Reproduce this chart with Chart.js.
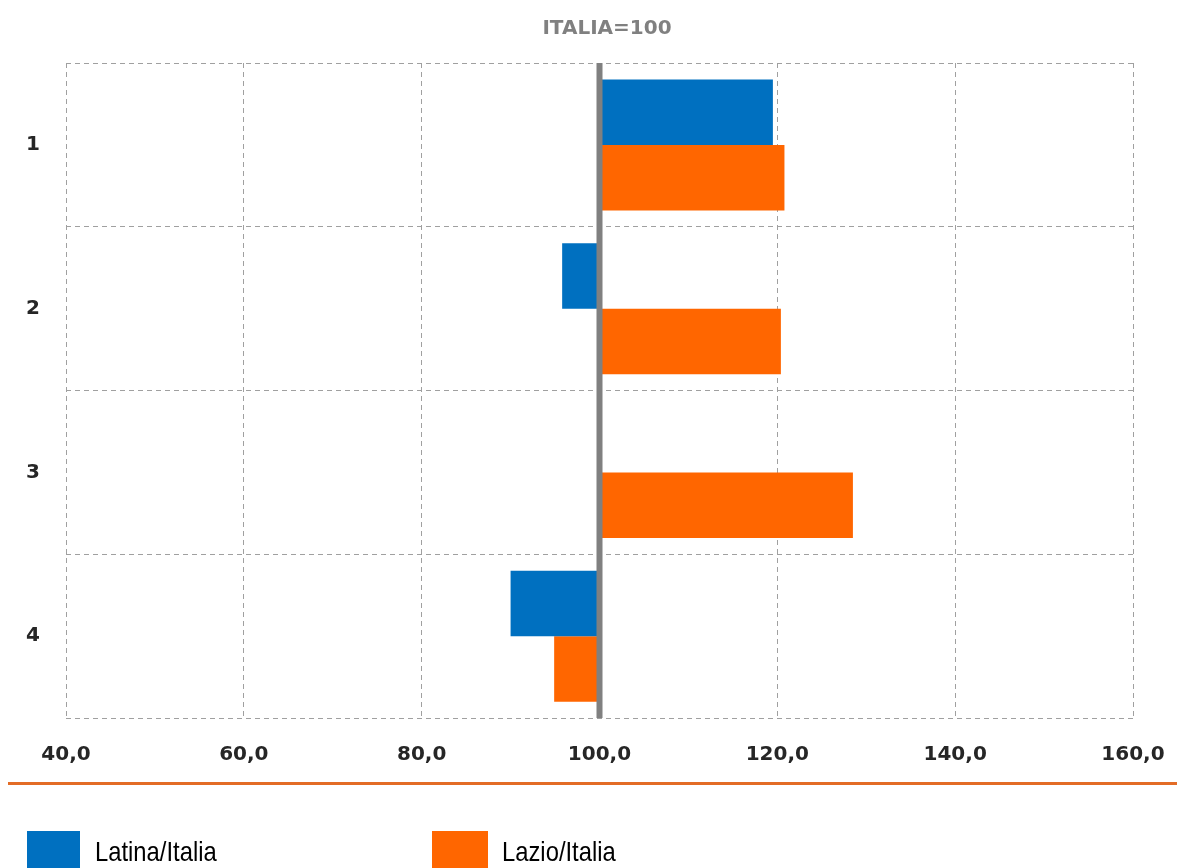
<!DOCTYPE html>
<html>
<head>
<style>
  body { margin: 0; background: #fff; font-family: "Liberation Sans", Arial, sans-serif; }
  #wrap { position: relative; width: 1177px; height: 868px; overflow: hidden; }
  #title { position: absolute; top: 15px; left: 507px; width: 200px; text-align: center;
           font-family: "DejaVu Sans", sans-serif; font-weight: bold; font-size: 20px; color: #808080; }
  #sep { position: absolute; left: 8px; top: 782px; width: 1169px; height: 3px; background: #e36c26; }
  .leg { position: absolute; top: 831px; height: 40px; }
  .leg-txt { position: absolute; top: 836px; font-size: 28px; color: #000;
             transform: scaleX(0.85); transform-origin: left center; white-space: nowrap; }
</style>
</head>
<body>
<div id="wrap">
  <canvas id="chart"></canvas>
  <div id="title">ITALIA=100</div>
  <div id="sep"></div>
  <div id="legend"></div>
</div>
<script src="https://cdn.jsdelivr.net/npm/chart.js"></script>
<script>
const categories = ['1', '2', '3', '4'];
const latina = [119.5, 95.8, null, 90.0];   // Latina/Italia
const lazio = [120.8, 120.4, 128.5, 94.9];  // Lazio/Italia
const seriesNames = ['Latina/Italia', 'Lazio/Italia'];
const seriesColors = ['#0070c0', '#ff6600'];
const baseValue = 100;

// thick grey reference line at 100
const baseLine = {
  id: 'baseLine',
  afterDatasetsDraw(chart) {
    const { ctx, chartArea: { top, bottom }, scales: { x } } = chart;
    const px = x.getPixelForValue(baseValue);
    ctx.save();
    ctx.strokeStyle = '#808080';
    ctx.lineWidth = 6;
    ctx.beginPath();
    ctx.moveTo(px, top);
    ctx.lineTo(px, bottom);
    ctx.stroke();
    ctx.restore();
  }
};

const canvas = document.getElementById('chart');
canvas.width = 1177;
canvas.height = 868;

const tickFont = { family: 'DejaVu Sans', weight: 'bold', size: 20 };

const chart = new Chart(canvas.getContext('2d'), {
  type: 'bar',
  data: {
    labels: categories,
    datasets: [
      { label: seriesNames[0], data: latina, backgroundColor: seriesColors[0], base: baseValue },
      { label: seriesNames[1], data: lazio, backgroundColor: seriesColors[1], base: baseValue }
    ]
  },
  options: {
    indexAxis: 'y',
    responsive: false,
    animation: false,
    layout: { padding: { left: 0, right: 44, top: 63, bottom: 100 } },
    datasets: { bar: { categoryPercentage: 0.8, barPercentage: 1.0 } },
    scales: {
      x: {
        type: 'linear',
        min: 40,
        max: 160,
        ticks: {
          stepSize: 20,
          padding: 25,
          color: '#262626',
          font: tickFont,
          callback: v => v.toFixed(1).replace('.', ',')
        },
        grid: { color: '#a0a0a0', lineWidth: 1, drawTicks: false },
        border: { display: false, dash: [5, 4] },
        afterFit: s => { s.height = 50; s.paddingLeft = 0; s.paddingRight = 0; }
      },
      y: {
        ticks: { padding: 26, color: '#262626', font: tickFont },
        grid: { color: '#a0a0a0', lineWidth: 1, drawTicks: false, offset: true },
        border: { display: false, dash: [5, 4] },
        afterFit: s => { s.width = 66; s.paddingTop = 0; s.paddingBottom = 0; }
      }
    },
    plugins: {
      legend: { display: false },
      tooltip: { enabled: false }
    }
  },
  plugins: [baseLine]
});

// legend below the separator line
const legend = document.getElementById('legend');
const legPos = [{ box: 27, w: 53, txt: 95 }, { box: 432, w: 56, txt: 502 }];
seriesNames.forEach((name, i) => {
  const b = document.createElement('div');
  b.className = 'leg';
  b.style.left = legPos[i].box + 'px';
  b.style.width = legPos[i].w + 'px';
  b.style.background = seriesColors[i];
  legend.appendChild(b);
  const t = document.createElement('div');
  t.className = 'leg-txt';
  t.style.left = legPos[i].txt + 'px';
  t.textContent = name;
  legend.appendChild(t);
});
</script>
</body>
</html>
